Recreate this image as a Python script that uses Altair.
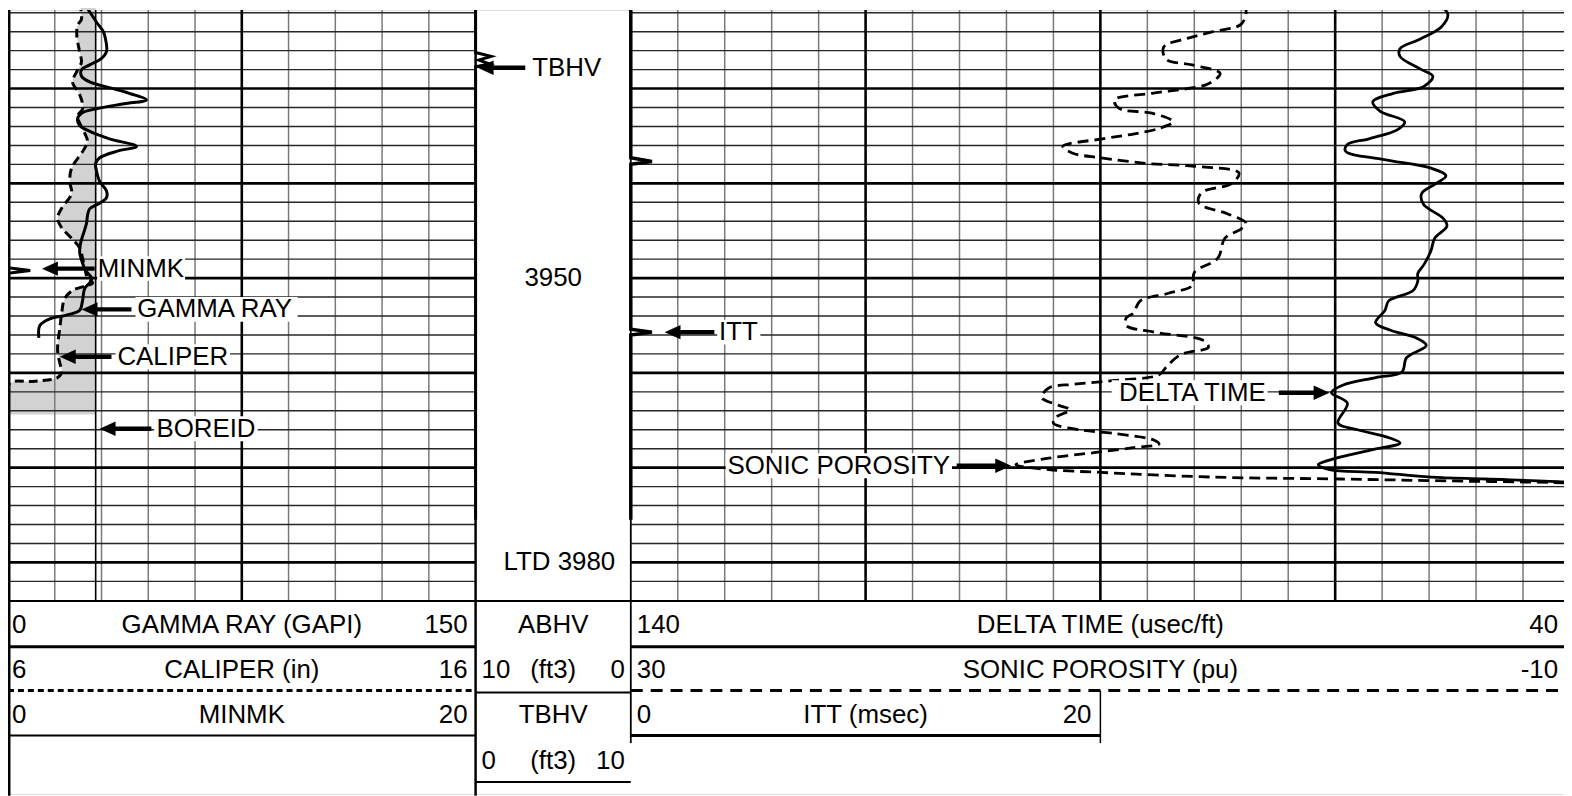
import altair as alt
import pandas as pd

# ---------------- curve data (depth in ft, values in log units) ----------------
gr_depth = [3920.9, 3921.9, 3923.0, 3924.0, 3924.8, 3926.1, 3926.9, 3927.5, 3928.0, 3928.7,
            3929.3, 3929.9, 3930.5, 3931.2, 3931.6, 3932.1, 3932.6, 3933.2, 3933.9, 3934.6,
            3935.3, 3936.1, 3936.6, 3937.3, 3937.9, 3938.7, 3939.8, 3940.8, 3941.5, 3942.1,
            3942.7, 3943.4, 3944.2, 3945.2, 3946.3, 3947.3, 3948.4, 3949.2, 3950.0, 3950.5,
            3951.1, 3952.4, 3953.4, 3953.9, 3954.3, 3955.0, 3956.3]
gr_gapi = [24.3, 26.2, 28.4, 30.6, 31.3, 31.6, 29.7, 26.2, 23.6, 23.6,
           26.2, 32.5, 38.9, 44.4, 37.3, 28.7, 23.6, 22.3, 23.0, 26.8,
           32.5, 41.2, 35.1, 29.4, 28.1, 28.4, 29.4, 31.6, 31.6, 29.4,
           26.2, 25.5, 25.2, 24.3, 23.3, 23.0, 23.9, 24.9, 26.8, 26.2,
           24.6, 23.9, 23.0, 18.8, 13.4, 10.2, 9.9]

cal_depth = [3920.9, 3922.7, 3923.3, 3924.3, 3926.1, 3927.2, 3928.2, 3929.3, 3930.6, 3932.1,
             3932.9, 3934.7, 3935.6, 3936.6, 3938.4, 3939.8, 3941.1, 3942.6, 3943.7, 3944.7,
             3945.8, 3946.8, 3948.0, 3948.9, 3950.0, 3950.5, 3951.3, 3952.2, 3953.6, 3955.2,
             3957.6, 3959.0, 3959.9, 3960.5, 3960.9, 3961.1, 3964.4]
cal_in = [7.53, 7.57, 7.49, 7.47, 7.53, 7.57, 7.47, 7.38, 7.53, 7.60,
          7.49, 7.64, 7.70, 7.60, 7.36, 7.32, 7.36, 7.15, 7.06, 7.15,
          7.36, 7.53, 7.60, 7.64, 7.70, 7.81, 7.38, 7.21, 7.15, 7.11,
          7.06, 7.11, 7.15, 7.06, 6.53, 6.04, 6.0]
bit_size_in = 7.875

minmk_depth = [3920.9, 3948.9, 3949.2, 3949.5, 3964.4]
minmk_val = [0.0, 0.0, 0.95, 0.0, 0.0]

tbhv_depth = [3920.9, 3926.2, 3926.6, 3927.0, 3927.4, 3927.7, 3975.5]
tbhv_ft3 = [0.0, 0.0, 1.0, 0.2, 0.9, 0.0, 0.0]

itt_depth = [3920.9, 3937.3, 3937.7, 3938.0, 3955.4, 3955.7, 3956.0, 3975.5]
itt_msec = [0.0, 0.0, 0.9, 0.0, 0.0, 0.9, 0.0, 0.0]

dt_depth = [3920.9, 3922.2, 3923.5, 3924.8, 3925.8, 3926.6, 3927.9, 3928.7, 3929.8, 3930.5,
            3931.4, 3932.4, 3933.5, 3934.3, 3935.3, 3935.9, 3936.6, 3937.5, 3938.4, 3939.2,
            3940.1, 3941.1, 3942.2, 3943.7, 3944.5, 3945.8, 3947.1, 3948.5, 3949.5, 3950.3,
            3951.3, 3952.4, 3953.4, 3954.7, 3955.5, 3956.3, 3957.1, 3958.4, 3959.9, 3960.5,
            3961.3, 3962.1, 3963.2, 3965.3, 3966.0, 3966.9, 3967.4, 3968.1, 3969.0, 3969.7,
            3970.2, 3970.5, 3971.0, 3971.2, 3971.5, 3971.6]
dt_usft = [54.1, 53.0, 53.7, 56.0, 58.1, 58.1, 56.0, 54.6, 55.6, 58.8,
           61.0, 60.2, 57.6, 58.3, 61.4, 63.7, 63.9, 59.8, 54.8, 53.2,
           54.4, 55.8, 55.6, 53.5, 53.1, 54.4, 54.8, 55.5, 56.2, 56.2,
           56.7, 59.3, 59.7, 60.7, 59.1, 56.4, 55.3, 57.4, 57.9, 60.7,
           64.2, 65.4, 63.7, 64.7, 62.6, 59.1, 58.1, 61.0, 64.9, 66.8,
           65.6, 60.7, 54.8, 49.0, 40.6, 39.3]

sphi_depth = [3921.2, 3921.7, 3923.2, 3924.0, 3924.7, 3925.6, 3926.9, 3927.5, 3928.4, 3929.5,
              3930.0, 3930.5, 3931.2, 3932.1, 3932.6, 3933.5, 3934.2, 3934.8, 3935.3, 3936.1,
              3936.8, 3937.3, 3937.9, 3938.2, 3938.9, 3940.0, 3941.0, 3942.1, 3943.2, 3944.2,
              3944.8, 3945.8, 3947.9, 3949.4, 3950.8, 3951.6, 3952.4, 3953.7, 3954.2, 3955.0,
              3955.7, 3956.6, 3957.3, 3958.1, 3959.4, 3960.2, 3960.8, 3961.2, 3961.6, 3962.6,
              3963.4, 3963.9, 3964.7, 3965.3, 3966.0, 3966.4, 3967.1, 3967.5, 3967.9, 3968.4,
              3969.0, 3969.7, 3970.2, 3970.5, 3971.0, 3971.2, 3971.4, 3971.6, 3971.7]
sphi_pu = [4.0, 3.8, 4.0, 5.2, 6.3, 7.3, 7.2, 6.1, 4.9, 5.4,
           6.3, 7.8, 9.4, 9.2, 7.8, 6.9, 7.5, 8.6, 9.9, 11.6,
           11.2, 10.0, 8.0, 6.0, 4.1, 4.4, 5.7, 5.8, 4.6, 3.8,
           4.0, 4.7, 5.0, 6.0, 6.1, 7.1, 8.3, 8.6, 8.9, 8.9,
           7.7, 5.6, 5.4, 6.6, 7.2, 7.5, 9.4, 11.1, 12.2, 12.5,
           11.8, 11.3, 11.9, 12.0, 10.9, 9.4, 7.7, 7.5, 8.6, 10.2,
           12.2, 13.6, 12.2, 10.0, 5.2, -0.2, -4.8, -9.7, -10.5]

# ---------------- depth track labels ----------------
depth_labels = ["3950", "LTD 3980"]
depth_label_depth = [3950, 3980]
depth_label_pos = [5.0, 5.4]          # in track-2 (ft3) units

# ---------------- curve call-outs ----------------
t1_names = ["MINMK", "GAMMA RAY", "CALIPER", "BOREID"]
t1_depth = [3949.0, 3953.3, 3958.3, 3965.9]
t1_text_at = [28.8, 41.5, 35.1, 47.6]       # GAPI units (text left edge)
t1_tip = [10.9, 23.6, 16.6, 29.4]
t1_neck = [13.9, 26.6, 19.6, 32.4]
t1_tail = [27.8, 39.6, 33.2, 46.0]
t1_box_l = [28.6, 40.9, 34.5, 46.9]
t1_box_r = [56.8, 92.9, 71.2, 80.1]

t2_names = ["TBHV"]
t2_depth = [3927.8]
t2_text_at = [3.65]
t2_tip = [0.13]
t2_neck = [0.73]
t2_tail = [3.2]

t3l_names = ["ITT"]                          # left-pointing, text to the right
t3l_depth = [3955.7]
t3l_text_at = [130.6]
t3l_tip = [136.4]
t3l_neck = [135.4]
t3l_tail = [131.1]
t3l_box_l = [130.8]
t3l_box_r = [126.2]

t3r_names = ["SONIC POROSITY", "DELTA TIME"]  # right-pointing, text to the left
t3r_depth = [3969.8, 3962.1]
t3r_text_at = [106.0, 72.4]
t3r_tip = [99.5, 65.6]
t3r_neck = [100.5, 66.6]
t3r_tail = [105.3, 71.0]
t3r_box_l = [129.9, 88.8]
t3r_box_r = [105.8, 72.2]
box_half_ft = 1.31

# ---------------- header texts ----------------
h1_left = ["0", "6", "0"]
h1_mid = ["GAMMA RAY (GAPI)", "CALIPER (in)", "MINMK"]
h1_right = ["150", "16", "20"]
h2_mid = ["ABHV", "(ft3)", "TBHV", "(ft3)"]
h2_left = ["10", "0"]
h2_right = ["0", "10"]
h3_left = ["140", "30"]
h3_mid = ["DELTA TIME (usec/ft)", "SONIC POROSITY (pu)"]
h3_right = ["40", "-10"]
hitt = ["0", "ITT (msec)", "20"]

# ---------------- layout / scales ----------------
W, H = 1564, 788
FONT = "Liberation Sans"
DEPTH_TOP, DEPTH_BOT = 3921.71, 3984.07


def sc(domain, rng):
    return alt.Scale(domain=domain, range=rng, nice=False, zero=False)


T1, T2, T3, TITT = [0, 470], [470, 626], [626, 1570], [626, 1098]
GR_S = sc([0, 150], T1)
CAL_S = sc([6, 16], T1)
MNK_S = sc([0, 20], T1)
TB_S = sc([0, 10], T2)
DT_S = sc([140, 40], T3)
SP_S = sc([30, -10], T3)
ITT_S = sc([0, 20], TITT)
DEP_S = sc([DEPTH_TOP, DEPTH_BOT], [0, 594])
HDR_S = sc([0, 4], [594, 776])

layers = []


def hseg(ys, yscale, xscale, x0, x1, color="black", width=1.0, dash=None):
    df = pd.DataFrame({"y": list(ys)})
    df["a"] = x0
    df["b"] = x1
    props = dict(color=color, strokeWidth=width, strokeCap="butt")
    if dash is not None:
        props["strokeDash"] = dash
    return alt.Chart(df).mark_rule(**props).encode(
        x=alt.X("a:Q", scale=xscale, axis=None), x2=alt.X2("b"),
        y=alt.Y("y:Q", scale=yscale, axis=None))


def vseg(xs, xscale, yscale, y0, y1, color="black", width=1.0):
    df = pd.DataFrame({"x": list(xs)})
    df["a"] = y0
    df["b"] = y1
    return alt.Chart(df).mark_rule(color=color, strokeWidth=width, strokeCap="butt").encode(
        x=alt.X("x:Q", scale=xscale, axis=None),
        y=alt.Y("a:Q", scale=yscale, axis=None), y2=alt.Y2("b"))


def curve(depths, vals, xscale, width=3.0, dash=None, interp="linear"):
    df = pd.DataFrame({"d": depths, "v": vals})
    props = dict(color="black", strokeWidth=width, interpolate=interp, clip=True)
    if dash is not None:
        props["strokeDash"] = dash
    return alt.Chart(df).mark_line(**props).encode(
        x=alt.X("v:Q", scale=xscale, axis=None),
        y=alt.Y("d:Q", scale=DEP_S, axis=None),
        order=alt.Order("d:Q"))


def texts(xs, ys, labels, xscale, yscale, align, dx=0, size=26):
    df = pd.DataFrame({"x": xs, "y": ys, "t": labels})
    return alt.Chart(df).mark_text(align=align, baseline="middle", dx=dx, font=FONT,
                                   fontSize=size, color="black").encode(
        x=alt.X("x:Q", scale=xscale, axis=None),
        y=alt.Y("y:Q", scale=yscale, axis=None), text="t:N")


def boxes(depths, lefts, rights, xscale):
    df = pd.DataFrame({"d0": [d - box_half_ft for d in depths],
                       "d1": [d + box_half_ft for d in depths],
                       "l": lefts, "r": rights})
    return alt.Chart(df).mark_rect(color="white", opacity=1).encode(
        x=alt.X("l:Q", scale=xscale, axis=None), x2=alt.X2("r"),
        y=alt.Y("d0:Q", scale=DEP_S, axis=None), y2=alt.Y2("d1"))


def arrows(depths, tips, necks, tails, xscale, direction):
    df = pd.DataFrame({"d": depths, "tip": tips, "neck": necks, "tail": tails})
    shaft = alt.Chart(df).mark_rule(color="black", strokeWidth=4.5, strokeCap="butt").encode(
        x=alt.X("neck:Q", scale=xscale, axis=None), x2=alt.X2("tail"),
        y=alt.Y("d:Q", scale=DEP_S, axis=None))
    path = "M0,0L2,-0.9L2,0.9Z" if direction == "left" else "M0,0L-2,-0.9L-2,0.9Z"
    head = alt.Chart(df).mark_point(shape=path, filled=True, size=256, color="black",
                                    opacity=1, strokeWidth=0).encode(
        x=alt.X("tip:Q", scale=xscale, axis=None),
        y=alt.Y("d:Q", scale=DEP_S, axis=None))
    return [shaft, head]


# caliper / bit-size shading
cal_df = pd.DataFrame({"d": cal_depth, "c": cal_in})
cal_df["bit"] = bit_size_in
layers.append(alt.Chart(cal_df).mark_area(color="#d2d2d2", fillOpacity=1, interpolate="catmull-rom").encode(
    y=alt.Y("d:Q", scale=DEP_S, axis=None),
    x=alt.X("c:Q", scale=CAL_S, axis=None), x2=alt.X2("bit")))

# grid
minor_depths = [d for d in range(3922, 3984, 2) if d % 10 != 0]
major_depths = [3930, 3940, 3950, 3960, 3970, 3980]
t1_minor_v = [15, 30, 45, 60, 90, 105, 120, 135]
t1_major_v = [75]
t3_minor_v = [v for v in range(135, 40, -5) if v not in (115, 90, 65)]
t3_major_v = [115, 90, 65]

layers.append(vseg(t1_minor_v, GR_S, DEP_S, DEPTH_TOP, DEPTH_BOT, color="#7a7a7a", width=1.5))
layers.append(vseg(t3_minor_v, DT_S, DEP_S, DEPTH_TOP, DEPTH_BOT, color="#7a7a7a", width=1.5))
layers.append(hseg(minor_depths, DEP_S, GR_S, 0, 150, color="#262626", width=1.4))
layers.append(hseg(minor_depths, DEP_S, DT_S, 140, 40, color="#262626", width=1.4))
layers.append(vseg(t1_major_v, GR_S, DEP_S, DEPTH_TOP, DEPTH_BOT, width=2.6))
layers.append(vseg(t3_major_v, DT_S, DEP_S, DEPTH_TOP, DEPTH_BOT, width=2.6))
layers.append(hseg(major_depths, DEP_S, GR_S, 0, 150, width=2.6))
layers.append(hseg(major_depths, DEP_S, DT_S, 140, 40, width=2.6))

# bit size line
layers.append(vseg([bit_size_in], CAL_S, DEP_S, DEPTH_TOP, DEPTH_BOT, width=1.6))

# track borders (grid part and header part)
layers.append(vseg([0], GR_S, DEP_S, DEPTH_TOP, DEPTH_BOT, width=5))
layers.append(vseg([0], GR_S, HDR_S, 0, 4.3, width=5))
layers.append(vseg([150], GR_S, DEP_S, DEPTH_TOP, DEPTH_BOT, width=2.5))
layers.append(vseg([150], GR_S, HDR_S, 0, 4.3, width=2.5))
layers.append(vseg([140], DT_S, DEP_S, DEPTH_TOP, DEPTH_BOT, width=1.8))
layers.append(vseg([140], DT_S, HDR_S, 0, 3.14, width=1.8))
layers.append(vseg([20], ITT_S, HDR_S, 1.98, 3.14, width=1.5))

# header lines
layers.append(hseg([0], HDR_S, GR_S, 0, 150, width=2.2))
layers.append(hseg([0], HDR_S, TB_S, 0, 10, width=2.2))
layers.append(hseg([0], HDR_S, DT_S, 140, 40, width=2.2))
layers.append(hseg([1.01], HDR_S, GR_S, 0, 150, width=3))
layers.append(hseg([1.98], HDR_S, GR_S, 0, 150, width=3, dash=[6, 4]))
layers.append(hseg([2.97], HDR_S, GR_S, 0, 150, width=2))
layers.append(hseg([2.02], HDR_S, TB_S, 0, 10, width=2))
layers.append(hseg([4.0], HDR_S, TB_S, 0, 10, width=2))
layers.append(hseg([1.01], HDR_S, DT_S, 140, 40, width=3))
layers.append(hseg([1.98], HDR_S, DT_S, 140, 40, width=3, dash=[12, 8]))
layers.append(hseg([2.97], HDR_S, ITT_S, 0, 20, width=3))

# curves
layers.append(curve(cal_depth, cal_in, CAL_S, width=3, dash=[9, 5], interp="catmull-rom"))
layers.append(curve(gr_depth, gr_gapi, GR_S, width=3, interp="catmull-rom"))
layers.append(curve(minmk_depth, minmk_val, MNK_S, width=3))
layers.append(curve(tbhv_depth, tbhv_ft3, TB_S, width=3))
layers.append(curve(itt_depth, itt_msec, ITT_S, width=3.5))
layers.append(curve(sphi_depth, sphi_pu, SP_S, width=2.8, dash=[11, 6], interp="catmull-rom"))
layers.append(curve(dt_depth, dt_usft, DT_S, width=2.8, interp="catmull-rom"))

# call-out boxes, arrows and texts
layers.append(boxes(t1_depth, t1_box_l, t1_box_r, GR_S))
layers.append(boxes(t3l_depth, t3l_box_l, t3l_box_r, DT_S))
layers.append(boxes(t3r_depth, t3r_box_l, t3r_box_r, DT_S))
layers += arrows(t1_depth, t1_tip, t1_neck, t1_tail, GR_S, "left")
layers += arrows(t2_depth, t2_tip, t2_neck, t2_tail, TB_S, "left")
layers += arrows(t3l_depth, t3l_tip, t3l_neck, t3l_tail, DT_S, "left")
layers += arrows(t3r_depth, t3r_tip, t3r_neck, t3r_tail, DT_S, "right")
layers.append(texts(t1_text_at, t1_depth, t1_names, GR_S, DEP_S, "left"))
layers.append(texts(t2_text_at, t2_depth, t2_names, TB_S, DEP_S, "left"))
layers.append(texts(t3l_text_at, t3l_depth, t3l_names, DT_S, DEP_S, "left"))
layers.append(texts(t3r_text_at, t3r_depth, t3r_names, DT_S, DEP_S, "right"))
layers.append(texts(depth_label_pos, depth_label_depth, depth_labels, TB_S, DEP_S, "center"))

# header texts
rows3 = [0.53, 1.53, 2.53]
layers.append(texts([0] * 3, rows3, h1_left, GR_S, HDR_S, "left", dx=4))
layers.append(texts([75] * 3, rows3, h1_mid, GR_S, HDR_S, "center"))
layers.append(texts([150] * 3, rows3, h1_right, GR_S, HDR_S, "right", dx=-8))
layers.append(texts([5] * 4, [0.53, 1.53, 2.53, 3.53], h2_mid, TB_S, HDR_S, "center"))
layers.append(texts([0] * 2, [1.53, 3.53], h2_left, TB_S, HDR_S, "left", dx=6))
layers.append(texts([10] * 2, [1.53, 3.53], h2_right, TB_S, HDR_S, "right", dx=-6))
layers.append(texts([140] * 2, rows3[:2], h3_left, DT_S, HDR_S, "left", dx=6))
layers.append(texts([90] * 2, rows3[:2], h3_mid, DT_S, HDR_S, "center"))
layers.append(texts([40] * 2, rows3[:2], h3_right, DT_S, HDR_S, "right", dx=-12))
layers.append(texts([0], [2.53], hitt[:1], ITT_S, HDR_S, "left", dx=6))
layers.append(texts([10], [2.53], hitt[1:2], ITT_S, HDR_S, "center"))
layers.append(texts([20], [2.53], hitt[2:], ITT_S, HDR_S, "right", dx=-9))

chart = (
    alt.layer(*layers)
    .resolve_scale(x="independent", y="independent")
    .properties(width=W, height=H, padding=0, autosize=alt.AutoSizeParams(type="none"))
    .configure_view(strokeOpacity=0)
    .configure(background="white")
)

chart.save("out.html", embed_options={"renderer": "svg", "actions": False})
